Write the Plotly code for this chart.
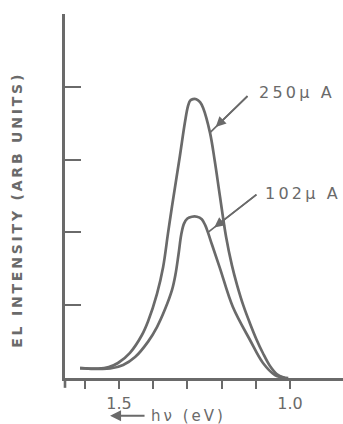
import plotly.graph_objects as go

# Electroluminescence spectra at two drive currents
energy_250 = [1.614, 1.561, 1.530, 1.503, 1.468, 1.433, 1.415, 1.389, 1.371, 1.357,
              1.345, 1.322, 1.307, 1.298, 1.292, 1.284, 1.274, 1.263, 1.254, 1.234,
              1.220, 1.205, 1.187, 1.170, 1.155, 1.136, 1.117, 1.098, 1.079, 1.058,
              1.038, 1.020, 1.005]
intensity_250 = [0.137, 0.130, 0.150, 0.206, 0.346, 0.591, 0.780, 1.157, 1.526, 1.980,
                 2.360, 3.050, 3.520, 3.740, 3.810, 3.830, 3.830, 3.790, 3.710, 3.370,
                 2.980, 2.500, 1.940, 1.550, 1.280, 0.990, 0.750, 0.530, 0.340, 0.160,
                 0.050, 0.010, 0.0]

energy_102 = [1.614, 1.561, 1.526, 1.488, 1.453, 1.415, 1.389, 1.365, 1.345, 1.335,
              1.326, 1.318, 1.310, 1.300, 1.287, 1.272, 1.258, 1.248, 1.240, 1.228,
              1.205, 1.167, 1.117, 1.079, 1.044, 1.015]
intensity_102 = [0.137, 0.125, 0.130, 0.179, 0.288, 0.500, 0.700, 0.950, 1.210, 1.420,
                 1.700, 1.970, 2.120, 2.190, 2.215, 2.215, 2.180, 2.100, 2.000, 1.830,
                 1.510, 0.975, 0.522, 0.206, 0.041, 0.0]

x_tick_vals = [1.6, 1.5, 1.4, 1.3, 1.2, 1.1, 1.0]
x_tick_text = ["", "1.5", "", "", "", "", "1.0"]
y_tick_vals = [1, 2, 3, 4, 5]

label_250 = "250\u03bc A"
label_102 = "102\u03bc A"
y_title = "EL INTENSITY (ARB UNITS)"
x_title = "h\u03bd (eV)"

INK = "#6a6a6a"
FONT = "DejaVu Sans"


def spaced(text):
    # open up the lettering with thin spaces
    return "\u2009".join(text)


fig = go.Figure()
for e, i in ((energy_250, intensity_250), (energy_102, intensity_102)):
    fig.add_trace(go.Scatter(
        x=e, y=i, mode="lines",
        line=dict(color=INK, width=2.7, shape="spline", smoothing=1.0),
        hoverinfo="skip", showlegend=False,
    ))

# current labels with pointer arrows
for label, e, i, lx, ly, ax, ay in (
    (label_250, energy_250[19], intensity_250[19], 1.0965, 3.915, 39, -38),
    (label_102, energy_102[18], intensity_102[18], 1.079, 2.54, 50, -39),
):
    fig.add_annotation(x=e, y=i, ax=ax, ay=ay, text="", showarrow=True,
                       arrowhead=0, arrowwidth=1.7, arrowcolor=INK, standoff=0)
    fig.add_annotation(x=e, y=i, ax=ax, ay=ay, text="", showarrow=True,
                       arrowhead=2, arrowsize=1.2, arrowwidth=1.7, arrowcolor=INK,
                       standoff=8)
    fig.add_annotation(x=lx, y=ly, text=spaced(label), showarrow=False,
                       xanchor="left", yanchor="middle",
                       font=dict(family=FONT, size=16, color=INK))

fig.add_annotation(xref="paper", yref="paper", x=-0.173, y=0.459,
                   text=spaced(y_title), textangle=-90, showarrow=False,
                   xanchor="center", yanchor="middle",
                   font=dict(family=FONT, size=14, color=INK, weight="bold"))

# axis title: leftward arrow followed by the quantity
fig.add_annotation(xref="paper", yref="paper", x=0.162, y=-0.104,
                   ax=36, ay=0, text="", showarrow=True,
                   arrowhead=2, arrowsize=1.1, arrowwidth=2, arrowcolor=INK,
                   standoff=0)
fig.add_annotation(xref="paper", yref="paper", x=0.44, y=-0.104,
                   text=spaced(x_title), showarrow=False,
                   xanchor="center", yanchor="middle",
                   font=dict(family=FONT, size=15, color=INK))

# short extension of the vertical axis below the corner
fig.add_shape(type="line", xref="paper", yref="paper", x0=0, x1=0, y0=0, y1=-0.027,
              line=dict(color=INK, width=2.6))

fig.update_layout(
    width=343, height=424,
    margin=dict(l=65, r=0, t=14, b=46),
    paper_bgcolor="white", plot_bgcolor="white",
    xaxis=dict(range=[1.658, 0.845], showgrid=False, zeroline=False,
               showline=True, linecolor=INK, linewidth=2.6,
               tickmode="array", tickvals=x_tick_vals, ticktext=x_tick_text,
               ticks="outside", ticklen=8, tickwidth=2, tickcolor=INK,
               ticklabelstandoff=1,
               tickfont=dict(family=FONT, size=16, color=INK)),
    yaxis=dict(range=[0, 5], showgrid=False, zeroline=False,
               showline=True, linecolor=INK, linewidth=2.6,
               tickmode="array", tickvals=y_tick_vals, ticks="inside",
               ticklen=16, tickwidth=2, tickcolor=INK, showticklabels=False),
)

fig.write_html("out.html")
